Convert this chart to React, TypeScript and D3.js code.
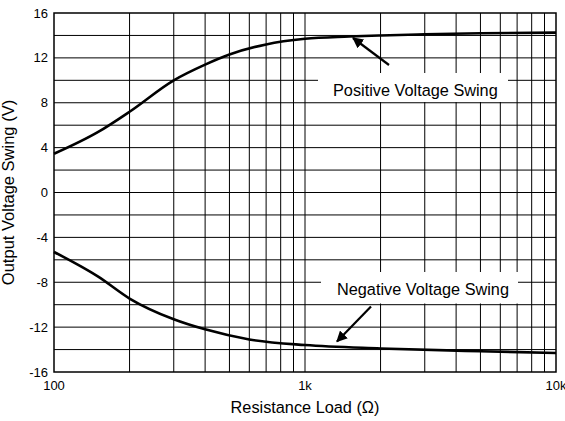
import React, { useRef, useEffect } from 'react';
import * as d3 from 'd3';

// resistance load (ohm) and output swing (V)
const loadValues = [100, 150, 200, 300, 400, 500, 700, 1000, 1500, 2000, 3000, 5000, 10000];
const positiveSwing = [3.45, 5.4, 7.2, 10.0, 11.4, 12.3, 13.2, 13.7, 13.9, 14.0, 14.1, 14.2, 14.25];
const negLoadValues = [100, 150, 200, 300, 400, 600, 1000, 2000, 5000, 10000];
const negativeSwing = [-5.3, -7.5, -9.45, -11.3, -12.2, -13.1, -13.6, -13.9, -14.15, -14.3];

const yTicks = [-16, -12, -8, -4, 0, 4, 8, 12, 16];
const xTicks = [100, 1000, 10000];
const xTickLabels = ['100', '1k', '10k'];

const margin = { top: 13, left: 54, right: 9, bottom: 49 };
const width = 565;
const height = 421;
const innerW = width - margin.left - margin.right;
const innerH = height - margin.top - margin.bottom;
const font = '"Liberation Sans", Arial, Helvetica, sans-serif';

const App = () => {
  const ref = useRef(null);

  useEffect(() => {
    const svg = d3.select(ref.current);
    svg.selectAll('*').remove();

    const x = d3.scaleLog().domain([100, 10000]).range([0, innerW]);
    const y = d3.scaleLinear().domain([-16, 16]).range([innerH, 0]);

    const g = svg.append('g').attr('transform', `translate(${margin.left}, ${margin.top})`);

    // grid
    const minorX: number[] = [];
    [100, 1000].forEach((dec) => {
      for (let k = 2; k <= 9; k++) minorX.push(dec * k);
    });
    g.selectAll('.vgrid')
      .data(minorX.concat([1000]))
      .enter()
      .append('line')
      .attr('x1', (d) => x(d))
      .attr('x2', (d) => x(d))
      .attr('y1', 0)
      .attr('y2', innerH)
      .attr('stroke', '#000')
      .attr('stroke-width', 1);

    g.selectAll('.hgrid')
      .data(d3.range(-14, 16, 2))
      .enter()
      .append('line')
      .attr('x1', 0)
      .attr('x2', innerW)
      .attr('y1', (d) => y(d))
      .attr('y2', (d) => y(d))
      .attr('stroke', '#000')
      .attr('stroke-width', 1);

    // label boxes hide the grid
    const boxes = [
      { x0: 318, x1: 508, y0: 73, y1: 102, text: 'Positive Voltage Swing', tx: 333, ty: 96 },
      { x0: 321, x1: 518, y0: 272, y1: 303.5, text: 'Negative Voltage Swing', tx: 337, ty: 294.5 },
    ];
    boxes.forEach((b) => {
      svg
        .append('rect')
        .attr('x', b.x0)
        .attr('y', b.y0)
        .attr('width', b.x1 - b.x0)
        .attr('height', b.y1 - b.y0)
        .attr('fill', '#fff');
      svg
        .append('text')
        .attr('x', b.tx)
        .attr('y', b.ty)
        .attr('font-family', font)
        .attr('font-size', 16.3)
        .attr('fill', '#000')
        .text(b.text);
    });

    // frame
    g.append('rect')
      .attr('x', 0)
      .attr('y', 0)
      .attr('width', innerW)
      .attr('height', innerH)
      .attr('fill', 'none')
      .attr('stroke', '#000')
      .attr('stroke-width', 1.5);

    // curves
    const line = d3
      .line<[number, number]>()
      .x((d) => x(d[0]))
      .y((d) => y(d[1]))
      .curve(d3.curveMonotoneX);

    g.append('path')
      .datum(loadValues.map((v, i) => [v, positiveSwing[i]] as [number, number]))
      .attr('d', line)
      .attr('fill', 'none')
      .attr('stroke', '#000')
      .attr('stroke-width', 2.6);

    g.append('path')
      .datum(negLoadValues.map((v, i) => [v, negativeSwing[i]] as [number, number]))
      .attr('d', line)
      .attr('fill', 'none')
      .attr('stroke', '#000')
      .attr('stroke-width', 2.6);

    // arrows
    svg
      .append('defs')
      .append('marker')
      .attr('id', 'arrowhead')
      .attr('viewBox', '0 0 10 10')
      .attr('refX', 9)
      .attr('refY', 5)
      .attr('markerWidth', 5)
      .attr('markerHeight', 5)
      .attr('markerUnits', 'strokeWidth')
      .attr('orient', 'auto')
      .append('path')
      .attr('d', 'M0,0 L10,5 L0,10 z')
      .attr('fill', '#000');

    const arrows = [
      { x1: 389, y1: 65, x2: 353, y2: 38 },
      { x1: 371, y1: 306.5, x2: 337, y2: 341.5 },
    ];
    arrows.forEach((a) => {
      svg
        .append('line')
        .attr('x1', a.x1)
        .attr('y1', a.y1)
        .attr('x2', a.x2)
        .attr('y2', a.y2)
        .attr('stroke', '#000')
        .attr('stroke-width', 2.2)
        .attr('marker-end', 'url(#arrowhead)');
    });

    // tick labels
    g.selectAll('.ylab')
      .data(yTicks)
      .enter()
      .append('text')
      .attr('x', -6)
      .attr('y', (d) => y(d))
      .attr('dy', '0.35em')
      .attr('text-anchor', 'end')
      .attr('font-family', font)
      .attr('font-size', 13)
      .text((d) => d);

    g.selectAll('.xlab')
      .data(xTicks)
      .enter()
      .append('text')
      .attr('x', (d) => x(d))
      .attr('y', innerH + 18)
      .attr('text-anchor', 'middle')
      .attr('font-family', font)
      .attr('font-size', 13)
      .text((d, i) => xTickLabels[i]);

    // axis titles
    g.append('text')
      .attr('x', innerW / 2)
      .attr('y', innerH + 41)
      .attr('text-anchor', 'middle')
      .attr('font-family', font)
      .attr('font-size', 16.3)
      .text('Resistance Load (\u03A9)');

    g.append('text')
      .attr('transform', 'rotate(-90)')
      .attr('x', -innerH / 2)
      .attr('y', -40)
      .attr('text-anchor', 'middle')
      .attr('font-family', font)
      .attr('font-size', 16.5)
      .text('Output Voltage Swing (V)');
  }, []);

  return (
    <svg
      ref={ref}
      width={width}
      height={height}
      style={{ position: 'absolute', left: 0, top: 0, background: '#fff' }}
    />
  );
};

export default App;
